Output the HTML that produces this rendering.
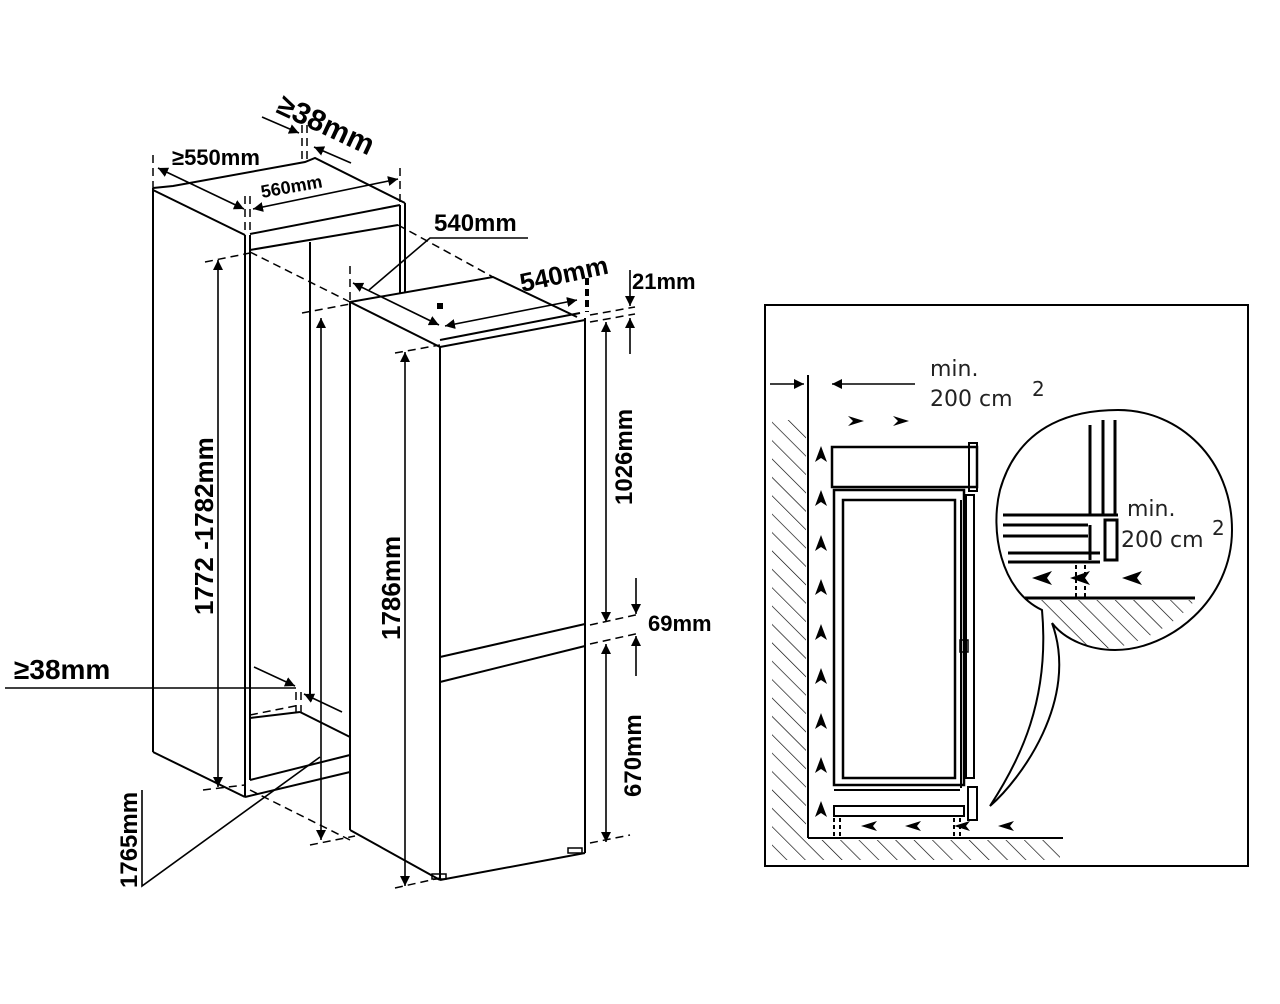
<!DOCTYPE html>
<html><head><meta charset="utf-8"><style>
html,body{margin:0;padding:0;background:#fff;}
svg{display:block;}
.t{font-family:"Liberation Sans",sans-serif;font-weight:bold;fill:#000;}
.r{font-family:"DejaVu Sans","Liberation Sans",sans-serif;fill:#222;}
</style></head><body>
<svg width="1280" height="1004" viewBox="0 0 1280 1004" xmlns="http://www.w3.org/2000/svg">
<defs>
<marker id="a" viewBox="0 0 10 10" refX="10" refY="5" markerWidth="10" markerHeight="10" orient="auto-start-reverse" markerUnits="userSpaceOnUse"><path d="M0,0L10,5L0,10z" fill="#000"/></marker>
<pattern id="h" width="13" height="13" patternUnits="userSpaceOnUse" patternTransform="rotate(-45)"><line x1="0" y1="0" x2="0" y2="13" stroke="#000" stroke-width="1.3"/></pattern>
</defs>
<g stroke="#000" stroke-width="2" fill="none">
<line x1="153" y1="188" x2="153" y2="752"/>
<polyline points="153,188 173,186 305,162 315,158 405,203"/>
<line x1="153" y1="190" x2="245" y2="235"/>
<line x1="245" y1="235" x2="245" y2="797"/>
<line x1="250" y1="235" x2="250" y2="780"/>
<line x1="250" y1="234" x2="400" y2="205"/>
<line x1="250" y1="250" x2="398" y2="225"/>
<line x1="400" y1="205" x2="400" y2="293"/>
<line x1="405" y1="203" x2="405" y2="293"/>
<line x1="310" y1="242" x2="310" y2="700"/>
<line x1="153" y1="752" x2="245" y2="797"/>
<line x1="245" y1="797" x2="350" y2="772"/>
<line x1="250" y1="780" x2="350" y2="755"/>
<line x1="250" y1="718" x2="300" y2="712"/>
<line x1="300" y1="712" x2="350" y2="737"/>
<polyline points="350,302 493,277 577,317"/>
<line x1="350" y1="302" x2="440" y2="347"/>
<line x1="440" y1="347" x2="585" y2="320"/>
<line x1="440" y1="340" x2="580" y2="313"/>
<line x1="350" y1="302" x2="350" y2="830"/>
<line x1="440" y1="347" x2="440" y2="880"/>
<line x1="585" y1="318" x2="585" y2="853"/>
<line x1="350" y1="830" x2="440" y2="880"/>
<line x1="440" y1="880" x2="585" y2="853"/>
<line x1="440" y1="657" x2="585" y2="624"/>
<line x1="440" y1="682" x2="585" y2="646"/>
<rect x="432" y="874" width="14" height="5" stroke-width="1.5"/>
<rect x="568" y="848" width="14" height="5" stroke-width="1.5"/>
</g>
<g stroke="#000" stroke-width="1.5" fill="none" stroke-dasharray="8,5">
<line x1="153" y1="155" x2="153" y2="188"/>
<line x1="245" y1="196" x2="245" y2="240"/>
<line x1="250" y1="196" x2="250" y2="240"/>
<line x1="302" y1="125" x2="302" y2="162"/>
<line x1="307" y1="125" x2="307" y2="162"/>
<line x1="400" y1="168" x2="400" y2="205"/>
<line x1="205" y1="262" x2="255" y2="252"/>
<line x1="250" y1="252" x2="350" y2="302"/>
<line x1="398" y1="225" x2="493" y2="277"/>
<line x1="302" y1="313" x2="350" y2="304"/>
<line x1="350" y1="266" x2="350" y2="302"/>
<line x1="395" y1="353" x2="440" y2="345"/>
<line x1="590" y1="315" x2="635" y2="307"/>
<line x1="590" y1="322" x2="635" y2="314"/>
<line x1="590" y1="625" x2="640" y2="614"/>
<line x1="590" y1="644" x2="640" y2="633"/>
<line x1="590" y1="843" x2="630" y2="835"/>
<line x1="203" y1="790" x2="245" y2="785"/>
<line x1="250" y1="790" x2="350" y2="840"/>
<line x1="310" y1="845" x2="355" y2="836"/>
<line x1="395" y1="888" x2="440" y2="878"/>
<line x1="250" y1="715" x2="300" y2="705"/>
<line x1="296" y1="692" x2="296" y2="712"/>
<line x1="301" y1="692" x2="301" y2="712"/>
</g>
<g stroke="#000" stroke-width="4" stroke-dasharray="7,4"><line x1="587" y1="278" x2="587" y2="312"/></g>
<rect x="437" y="303" width="6" height="6" fill="#000"/>
<g stroke="#000" stroke-width="1.6" fill="none">
<line x1="158" y1="168" x2="244" y2="209" marker-start="url(#a)" marker-end="url(#a)"/>
<line x1="253" y1="209" x2="398" y2="179" marker-start="url(#a)" marker-end="url(#a)"/>
<line x1="262" y1="117" x2="299" y2="133" marker-end="url(#a)"/>
<line x1="351" y1="163" x2="314" y2="147" marker-end="url(#a)"/>
<line x1="353" y1="283" x2="439" y2="325" marker-start="url(#a)" marker-end="url(#a)"/>
<line x1="445" y1="326" x2="577" y2="300" marker-start="url(#a)" marker-end="url(#a)"/>
<polyline points="369,290 430,238 528,238"/>
<line x1="218" y1="260" x2="218" y2="787" marker-start="url(#a)" marker-end="url(#a)"/>
<line x1="321" y1="318" x2="321" y2="840" marker-start="url(#a)" marker-end="url(#a)"/>
<line x1="405" y1="352" x2="405" y2="886" marker-start="url(#a)" marker-end="url(#a)"/>
<line x1="606" y1="322" x2="606" y2="622" marker-start="url(#a)" marker-end="url(#a)"/>
<line x1="606" y1="644" x2="606" y2="842" marker-start="url(#a)" marker-end="url(#a)"/>
<line x1="630" y1="270" x2="630" y2="306" marker-end="url(#a)"/>
<line x1="630" y1="354" x2="630" y2="318" marker-end="url(#a)"/>
<line x1="636" y1="578" x2="636" y2="614" marker-end="url(#a)"/>
<line x1="636" y1="676" x2="636" y2="636" marker-end="url(#a)"/>
<line x1="5" y1="688" x2="296" y2="688"/>
<line x1="254" y1="667" x2="295" y2="686" marker-end="url(#a)"/>
<line x1="342" y1="712" x2="304" y2="694" marker-end="url(#a)"/>
<polyline points="142,790 142,886 320,757"/>
</g>
<text class="t" x="172" y="165" font-size="22">≥550mm</text>
<text class="t" x="262" y="198" font-size="18" transform="rotate(-10 262 198)">560mm</text>
<text class="t" x="275" y="112" font-size="30" transform="rotate(25 275 112)">≥38mm</text>
<text class="t" x="434" y="231" font-size="24">540mm</text>
<text class="t" x="522" y="292" font-size="26" transform="rotate(-12 522 292)">540mm</text>
<text class="t" x="632" y="289" font-size="22">21mm</text>
<text class="t" x="648" y="631" font-size="22">69mm</text>
<text class="t" x="14" y="679" font-size="28">≥38mm</text>
<text class="t" x="213" y="615" font-size="26" transform="rotate(-90 213 615)">1772 -1782mm</text>
<text class="t" x="400" y="640" font-size="26" transform="rotate(-90 400 640)">1786mm</text>
<text class="t" x="632" y="505" font-size="24" transform="rotate(-90 632 505)">1026mm</text>
<text class="t" x="641" y="797" font-size="24" transform="rotate(-90 641 797)">670mm</text>
<text class="t" x="137" y="888" font-size="24" transform="rotate(-90 137 888)">1765mm</text>

<rect x="765" y="305" width="483" height="561" fill="none" stroke="#000" stroke-width="2"/>
<rect x="772" y="420" width="34" height="418" fill="url(#h)"/>
<rect x="808" y="840" width="252" height="20" fill="url(#h)"/>
<rect x="772" y="838" width="36" height="22" fill="url(#h)"/>
<path d="M1030,600 L1195,600 C1180,620 1150,640 1115,648 C1090,650 1065,640 1052,623 C1040,615 1035,608 1030,600z" fill="url(#h)"/>
<g stroke="#000" fill="none" stroke-width="2">
<line x1="808" y1="375" x2="808" y2="838"/>
<line x1="808" y1="838" x2="1063" y2="838"/>
<line x1="770" y1="384" x2="804" y2="384" marker-end="url(#a)" stroke-width="1.5"/>
<line x1="915" y1="384" x2="832" y2="384" marker-end="url(#a)" stroke-width="1.5"/>
<rect x="832" y="447" width="145" height="40" stroke-width="2.5"/>
<rect x="969" y="443" width="8" height="48"/>
<rect x="834" y="490" width="130" height="295" stroke-width="2.5"/>
<rect x="843" y="500" width="112" height="278" stroke-width="2.5"/>
<line x1="961" y1="500" x2="961" y2="788"/>
<rect x="966" y="495" width="8" height="283"/>
<line x1="834" y1="790" x2="960" y2="790"/>
<line x1="834" y1="806" x2="960" y2="806"/>
<rect x="834" y="806" width="130" height="10" stroke-width="2"/>
<rect x="968" y="787" width="9" height="33"/>
<rect x="960" y="640" width="8" height="12" stroke-width="1.5"/>
<path d="M1052,623 C1080,700 1020,780 990,806 C1020,760 1050,700 1042,610 C1000,590 990,530 1000,490 C1020,420 1080,410 1118,410 C1180,410 1232,460 1232,530 C1232,600 1170,650 1115,650 C1090,650 1065,640 1052,623" stroke-width="2"/>
<line x1="1090" y1="425" x2="1090" y2="515" stroke-width="3"/>
<line x1="1103" y1="420" x2="1103" y2="515" stroke-width="3"/>
<line x1="1115" y1="420" x2="1115" y2="515" stroke-width="3"/>
<line x1="1003" y1="515" x2="1118" y2="515" stroke-width="3"/>
<line x1="1003" y1="525" x2="1088" y2="525" stroke-width="3"/>
<line x1="1003" y1="536" x2="1088" y2="536" stroke-width="3"/>
<line x1="1090" y1="525" x2="1090" y2="560" stroke-width="3"/>
<rect x="1105" y="520" width="12" height="40" stroke-width="3"/>
<line x1="1008" y1="553" x2="1100" y2="553" stroke-width="3"/>
<line x1="1008" y1="562" x2="1100" y2="562" stroke-width="3"/>
<line x1="1025" y1="598" x2="1195" y2="598" stroke-width="3"/>
<line x1="1076" y1="565" x2="1076" y2="598" stroke-width="2" stroke-dasharray="4,3"/>
<line x1="1085" y1="565" x2="1085" y2="598" stroke-width="2" stroke-dasharray="4,3"/>
<line x1="834" y1="818" x2="834" y2="838" stroke-width="2" stroke-dasharray="4,3"/>
<line x1="840" y1="818" x2="840" y2="838" stroke-width="2" stroke-dasharray="4,3"/>
<line x1="954" y1="818" x2="954" y2="838" stroke-width="2" stroke-dasharray="4,3"/>
<line x1="960" y1="818" x2="960" y2="838" stroke-width="2" stroke-dasharray="4,3"/>
</g>
<g fill="#000">
<path d="M848,416l16,5l-16,5l5,-5z"/><path d="M893,416l16,5l-16,5l5,-5z"/>
<g id="up"><path d="M821,446l6,16l-6,-4l-6,4z"/></g>
<use href="#up" y="44"/><use href="#up" y="89"/><use href="#up" y="133"/><use href="#up" y="178"/><use href="#up" y="222"/><use href="#up" y="267"/><use href="#up" y="311"/><use href="#up" y="355"/>
<g id="lf"><path d="M861,826l16,-5l-4,5l4,5z"/></g>
<use href="#lf" x="44"/><use href="#lf" x="93"/><use href="#lf" x="137"/>
<path d="M1032,578l20,-7l-5,7l5,7z"/><path d="M1070,578l20,-7l-5,7l5,7z"/><path d="M1122,578l20,-7l-5,7l5,7z"/>
</g>
<text class="r" x="930" y="376" font-size="22">min.</text>
<text class="r" x="930" y="406" font-size="22">200 cm</text>
<text class="r" x="1032" y="396" font-size="20">2</text>
<text class="r" x="1127" y="516" font-size="22">min.</text>
<text class="r" x="1121" y="547" font-size="22">200 cm</text>
<text class="r" x="1212" y="535" font-size="20">2</text>
</svg>
</body></html>
